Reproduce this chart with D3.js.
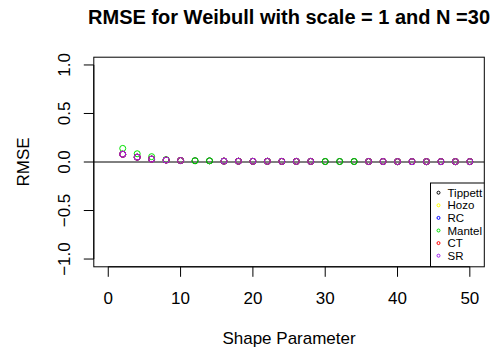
<!DOCTYPE html>
<html>
<head>
<meta charset="utf-8">
<script src="https://cdn.jsdelivr.net/npm/d3@7"></script>
<style>
  body { margin: 0; background: #fff; }
  svg { display: block; font-family: "Liberation Sans", Arial, sans-serif; }
</style>
</head>
<body>
<div id="chart"></div>
<script>
// Shape parameter values on the x axis
const shapes = [2, 4, 6, 8, 10, 12, 14, 16, 18, 20, 22, 24, 26, 28, 30, 32, 34, 36, 38, 40, 42, 44, 46, 48, 50];

// RMSE per method (null = no point drawn)
const tippett = [0.08, 0.05, 0.03, 0.02, 0.015, 0.013, 0.012, 0.009, 0.008, 0.007, 0.007, 0.006, 0.006, 0.006, 0.005, 0.005, 0.005, 0.005, 0.005, 0.004, 0.004, 0.004, 0.004, 0.004, 0.004];
const mantel = [0.14, 0.085, 0.055, 0.025, 0.015, 0.013, 0.012, 0.009, 0.008, 0.007, 0.007, 0.006, 0.006, 0.006, 0.005, 0.005, 0.005, 0.005, 0.005, 0.004, 0.004, 0.004, 0.004, 0.004, 0.004];
const hozo = [0.08, 0.05, 0.03, 0.02, 0.015, null, null, 0.009, 0.008, 0.007, 0.007, 0.006, 0.006, 0.006, null, null, null, 0.005, 0.005, 0.004, 0.004, 0.004, 0.004, 0.004, 0.004];
const rc = hozo.slice();
const ct = hozo.slice();
const sr = hozo.slice();

const xTicks = [0, 10, 20, 30, 40, 50];
const yTicks = [-1.0, -0.5, 0.0, 0.5, 1.0];

const series = [
  { name: "Tippett", values: tippett, color: "#000000" },
  { name: "Hozo", values: hozo, color: "#FFFF00" },
  { name: "RC", values: rc, color: "#0000FF" },
  { name: "Mantel", values: mantel, color: "#00E000" },
  { name: "CT", values: ct, color: "#FF0000" },
  { name: "SR", values: sr, color: "#A020F0" }
];

const width = 497, height = 353;
const plot = { left: 93.8, right: 484.3, top: 57.2, bottom: 266.8 };

const svg = d3.select("#chart").append("svg")
  .attr("width", width)
  .attr("height", height);

const xScale = d3.scaleLinear().domain([-2, 52]).range([plot.left, plot.right]);
const yScale = d3.scaleLinear().domain([-1.08, 1.08]).range([plot.bottom, plot.top]);

// Title
svg.append("text")
  .attr("x", (plot.left + plot.right) / 2)
  .attr("y", 24)
  .attr("text-anchor", "middle")
  .style("font-size", "20px")
  .style("font-weight", "bold")
  .text("RMSE for Weibull with scale = 1 and N =30");

// Clip for everything inside the plot region
svg.append("clipPath").attr("id", "plotClip")
  .append("rect")
  .attr("x", plot.left).attr("y", plot.top)
  .attr("width", plot.right - plot.left)
  .attr("height", plot.bottom - plot.top);

const inner = svg.append("g").attr("clip-path", "url(#plotClip)");

// Horizontal line at 0
inner.append("line")
  .attr("x1", plot.left).attr("x2", plot.right)
  .attr("y1", yScale(0)).attr("y2", yScale(0))
  .attr("stroke", "#000")
  .attr("stroke-width", 1);

// Points, drawn in series order so later ones sit on top
series.forEach(s => {
  inner.append("g")
    .selectAll("circle")
    .data(shapes.map((x, i) => ({ x: x, y: s.values[i] })).filter(d => d.y !== null))
    .enter().append("circle")
    .attr("cx", d => xScale(d.x))
    .attr("cy", d => yScale(d.y))
    .attr("r", 3)
    .attr("fill", "none")
    .attr("stroke", s.color)
    .attr("stroke-width", 1);
});

// Legend (bottom right, clipped by plot region)
const legend = inner.append("g").attr("transform", "translate(430.5,183)");
legend.append("rect")
  .attr("x", 0).attr("y", 0)
  .attr("width", 100).attr("height", 100)
  .attr("fill", "#fff")
  .attr("stroke", "#000")
  .attr("stroke-width", 1);

const rowH = 12.6;
const entry = legend.selectAll("g.entry")
  .data(series)
  .enter().append("g")
  .attr("class", "entry")
  .attr("transform", (d, i) => "translate(0," + (9.7 + i * rowH) + ")");

entry.append("circle")
  .attr("cx", 8)
  .attr("cy", 0)
  .attr("r", 1.5)
  .attr("fill", "none")
  .attr("stroke", d => d.color)
  .attr("stroke-width", 1);

entry.append("text")
  .attr("x", 17)
  .attr("y", 4)
  .style("font-size", "11.5px")
  .text(d => d.name);

// Plot box
svg.append("rect")
  .attr("x", plot.left).attr("y", plot.top)
  .attr("width", plot.right - plot.left)
  .attr("height", plot.bottom - plot.top)
  .attr("fill", "none")
  .attr("stroke", "#000")
  .attr("stroke-width", 1);

// x axis
const xAxis = svg.append("g").attr("transform", "translate(0," + plot.bottom + ")");
xAxis.append("line")
  .attr("x1", xScale(xTicks[0])).attr("x2", xScale(xTicks[xTicks.length - 1]))
  .attr("y1", 0).attr("y2", 0)
  .attr("stroke", "#000");
xAxis.selectAll("line.tick")
  .data(xTicks)
  .enter().append("line")
  .attr("class", "tick")
  .attr("x1", d => xScale(d)).attr("x2", d => xScale(d))
  .attr("y1", 0).attr("y2", 10)
  .attr("stroke", "#000");
xAxis.selectAll("text")
  .data(xTicks)
  .enter().append("text")
  .attr("x", d => xScale(d))
  .attr("y", 37.5)
  .attr("text-anchor", "middle")
  .style("font-size", "17px")
  .text(d => d);

// y axis
const yAxis = svg.append("g").attr("transform", "translate(" + plot.left + ",0)");
yAxis.append("line")
  .attr("x1", 0).attr("x2", 0)
  .attr("y1", yScale(yTicks[0])).attr("y2", yScale(yTicks[yTicks.length - 1]))
  .attr("stroke", "#000");
yAxis.selectAll("line.tick")
  .data(yTicks)
  .enter().append("line")
  .attr("class", "tick")
  .attr("x1", 0).attr("x2", -10)
  .attr("y1", d => yScale(d)).attr("y2", d => yScale(d))
  .attr("stroke", "#000");
yAxis.selectAll("text")
  .data(yTicks)
  .enter().append("text")
  .attr("transform", d => "translate(-23.5," + yScale(d) + ") rotate(-90)")
  .attr("text-anchor", "middle")
  .style("font-size", "17px")
  .text(d => d3.format(".1f")(d));

// Axis titles
svg.append("text")
  .attr("x", (plot.left + plot.right) / 2)
  .attr("y", 344)
  .attr("text-anchor", "middle")
  .style("font-size", "17px")
  .text("Shape Parameter");

svg.append("text")
  .attr("transform", "translate(28.5," + ((plot.top + plot.bottom) / 2) + ") rotate(-90)")
  .attr("text-anchor", "middle")
  .style("font-size", "17px")
  .text("RMSE");
</script>
</body>
</html>
